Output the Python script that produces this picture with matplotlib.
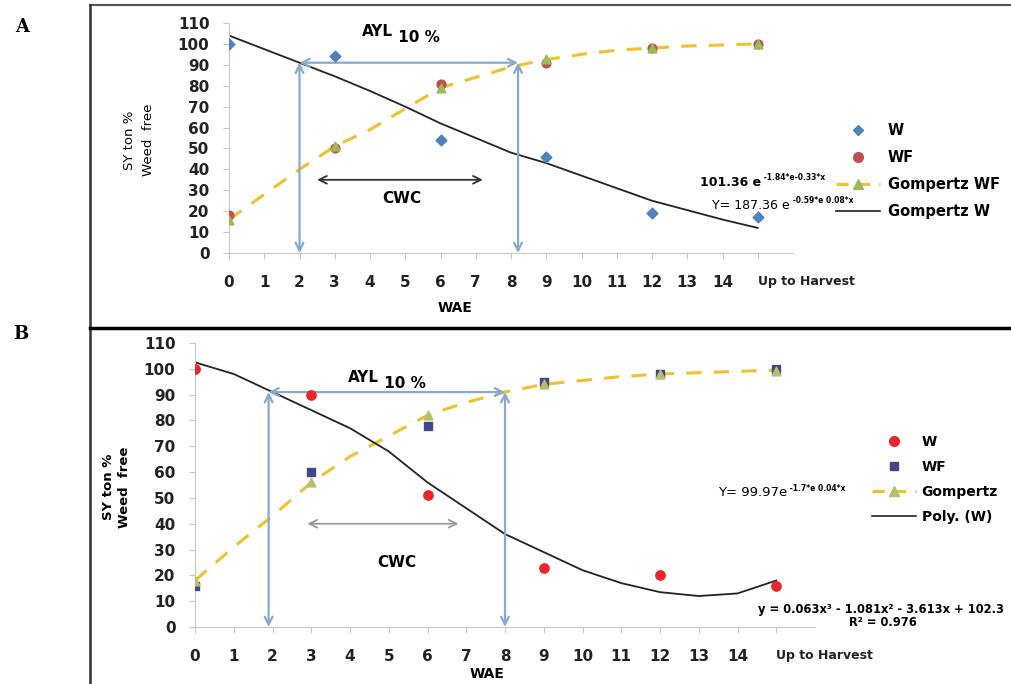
import numpy as np
import matplotlib
matplotlib.use('Agg')
import matplotlib.pyplot as plt
from matplotlib.lines import Line2D

# ---- data -------------------------------------------------------------
x_labels = [str(i) for i in range(15)] + ['Up to Harvest']
sample_idx = [0, 3, 6, 9, 12, 15]
curve_idx = list(range(16))

# panel A
a_w = [100, 94, 54, 46, 19, 17]
a_wf = [18, 50, 81, 91, 98, 100]
a_gomp_wf = [16, 51, 79, 93, 98, 100]
a_gomp_wf_curve = [16, 28, 40, 51, 59, 69, 79, 84, 89, 92.5, 95, 97, 98, 99, 99.5, 100]
a_gomp_w_curve = [104, 97.5, 91, 84.5, 77.5, 70, 62, 55, 48, 43, 37, 31, 25, 20.5, 16, 12]

# panel B
b_w = [100, 90, 51, 23, 20, 16]
b_wf = [16, 60, 78, 95, 98, 100]
b_gomp = [18, 56, 82, 94, 98, 99]
b_gomp_curve = [18, 31, 43, 56, 66, 74, 82, 87, 91, 94, 95.5, 97, 98, 98.5, 99, 99.5]
b_poly_curve = [102.5, 98, 91, 84, 77, 68, 56, 46, 36, 29, 22, 17, 13.5, 12, 13, 18]

# AYL / CWC markers (x positions in WAE units)
a_ayl = (2.0, 8.2, 91)
a_cwc = (2.5, 7.2, 35)
b_ayl = (1.9, 8.0, 91)
b_cwc = (2.9, 6.8, 40)

W, H = 1011, 684
fig = plt.figure(figsize=(W / 100, H / 100), dpi=100)


def fx(px):
    return px / W


def fy(py):
    return 1 - py / H


# panel frames
fig.add_artist(Line2D([fx(90), 1], [fy(5), fy(5)], color='#555555', lw=1.5))
fig.add_artist(Line2D([fx(90), fx(90)], [fy(5), 0], color='#333333', lw=1.8))
fig.add_artist(Line2D([fx(90), 1], [fy(328), fy(328)], color='black', lw=2.5))
fig.text(fx(22), fy(27), 'A', family='DejaVu Serif', weight='bold', fontsize=13, ha='center', va='center')
fig.text(fx(21), fy(334), 'B', family='DejaVu Serif', weight='bold', fontsize=13, ha='center', va='center')

blue_arr = '#87A9D0'
yellow = '#F2C12E'


def setup_axes(ax):
    ax.set_xlim(0, 16)
    ax.set_ylim(0, 110)
    ax.set_yticks(range(0, 111, 10))
    ax.set_xticks(range(16))
    ax.set_xticklabels(x_labels)
    for s in ['top', 'right']:
        ax.spines[s].set_visible(False)
    for s in ['left', 'bottom']:
        ax.spines[s].set_color('#C8C8C8')
    ax.tick_params(axis='both', colors='#C8C8C8', labelcolor='#222222', length=4)
    ax.tick_params(axis='x', pad=12)
    ax.tick_params(axis='y', pad=10)
    for lab in ax.get_xticklabels() + ax.get_yticklabels():
        lab.set_fontweight('bold')
        lab.set_fontsize(11)
    last = ax.get_xticklabels()[-1]
    last.set_fontsize(9)
    last.set_ha('left')
    last.set_x(14.85)
    ax.patch.set_alpha(0)


def arrows(ax, ayl, cwc, cwc_color, ayl_xy, cwc_txt_xy):
    x0, x1, y = ayl
    kw = dict(arrowstyle='<->', color=blue_arr, lw=1.6, mutation_scale=14, shrinkA=0, shrinkB=0)
    ax.annotate('', xy=(x0, 0), xytext=(x0, y), arrowprops=kw)
    ax.annotate('', xy=(x1, 0), xytext=(x1, y), arrowprops=kw)
    ax.annotate('', xy=(x1, y), xytext=(x0, y), arrowprops=kw)
    c0, c1, cy = cwc
    ax.annotate('', xy=(c1, cy), xytext=(c0, cy),
                arrowprops=dict(arrowstyle='<->', color=cwc_color, lw=1.3,
                                mutation_scale=14, shrinkA=0, shrinkB=0))
    t = ax.text(ayl_xy[0], ayl_xy[1], 'AYL', fontsize=11, weight='bold', ha='right', va='center')
    ax.annotate(' 10 %', xy=(1, 0.1), xycoords=t, fontsize=11, weight='bold', ha='left', va='center')
    ax.text(cwc_txt_xy[0], cwc_txt_xy[1], 'CWC', fontsize=11, weight='bold', ha='center', va='center')


def sup_text(ax, t, s):
    ax.annotate(s, xy=(1, 0.85), xycoords=t, fontsize=5.5, weight='bold',
                ha='left', va='center', annotation_clip=False)


# ---- panel A -------------------------------------------------------------
axA = fig.add_axes([fx(229), fy(253), fx(793) - fx(229), fy(23) - fy(253)])
setup_axes(axA)
arrows(axA, a_ayl, a_cwc, '#333333', (4.65, 106), (4.9, 26))
axA.plot(curve_idx, a_gomp_wf_curve, color=yellow, lw=2.2, dashes=(5, 4), zorder=2)
axA.plot(curve_idx, a_gomp_w_curve, color='#222222', lw=1.3, zorder=2)
axA.scatter(sample_idx, a_w, marker='D', s=30, color='#4F81BD', zorder=3)
axA.scatter(sample_idx, a_wf, marker='o', s=40, color='#C0504D', zorder=3)
axA.scatter(sample_idx, a_gomp_wf, marker='^', s=40, color='#9BBB59', zorder=4)
fig.text(fx(139), fy(140), 'SY ton %\nWeed  free', rotation=90, fontsize=9.5,
         ha='center', va='center', linespacing=1.6)
fig.text(fx(455), fy(308), 'WAE', fontsize=10, weight='bold', ha='center', va='center')

hA = [Line2D([], [], ls='none', marker='D', ms=5, color='#4F81BD'),
      Line2D([], [], ls='none', marker='o', ms=7, color='#C0504D'),
      Line2D([], [], color=yellow, lw=2.2, dashes=(4, 3), marker='^', ms=7,
             mfc='#9BBB59', mec='#9BBB59'),
      Line2D([], [], color='#222222', lw=1.2)]
axA.legend(hA, ['W', 'WF', 'Gompertz WF', 'Gompertz W'], loc='upper left',
           bbox_to_anchor=(fx(823), fy(110)), bbox_transform=fig.transFigure,
           frameon=False, handlelength=3.0, labelspacing=0.82, handletextpad=0.55,
           prop={'weight': 'bold', 'size': 10.5})

tA1 = fig.text(fx(700), fy(182), '101.36 e', fontsize=9, weight='bold', ha='left', va='center')
sup_text(axA, tA1, ' -1.84*e-0.33*x')
tA2 = fig.text(fx(712), fy(205), 'Y= 187.36 e', fontsize=9, ha='left', va='center')
sup_text(axA, tA2, ' -0.59*e 0.08*x')

# ---- panel B -------------------------------------------------------------
axB = fig.add_axes([fx(195), fy(627), fx(815) - fx(195), fy(343) - fy(627)])
setup_axes(axB)
arrows(axB, b_ayl, b_cwc, '#999999', (4.75, 96.5), (5.2, 25))
axB.plot(curve_idx, b_gomp_curve, color=yellow, lw=2.2, dashes=(5, 4), zorder=2)
axB.plot(curve_idx, b_poly_curve, color='#222222', lw=1.3, zorder=2)
axB.scatter(sample_idx, b_w, marker='o', s=45, color='#E8262B', zorder=3)
axB.scatter(sample_idx, b_wf, marker='s', s=40, color='#45458C', zorder=3)
axB.scatter(sample_idx, b_gomp, marker='^', s=40, color='#B5C06A', zorder=4)
fig.text(fx(117), fy(487), 'SY ton %\nWeed  free', rotation=90, fontsize=9.5,
         weight='bold', ha='center', va='center', linespacing=1.3)
fig.text(fx(487), fy(674), 'WAE', fontsize=10, weight='bold', ha='center', va='center')

hB = [Line2D([], [], ls='none', marker='o', ms=7, color='#E8262B'),
      Line2D([], [], ls='none', marker='s', ms=6, color='#45458C'),
      Line2D([], [], color=yellow, lw=2.2, dashes=(4, 3), marker='^', ms=7,
             mfc='#B5C06A', mec='#B5C06A'),
      Line2D([], [], color='#222222', lw=1.2)]
axB.legend(hB, ['W', 'WF', 'Gompertz', 'Poly. (W)'], loc='upper left',
           bbox_to_anchor=(fx(859), fy(422)), bbox_transform=fig.transFigure,
           frameon=False, handlelength=3.2, labelspacing=0.8, handletextpad=0.4,
           prop={'weight': 'bold', 'size': 10})

tB1 = fig.text(fx(718), fy(493), 'Y= 99.97e', fontsize=9.5, ha='left', va='center')
sup_text(axB, tB1, ' -1.7*e 0.04*x')
fig.text(fx(758), fy(609), 'y = 0.063x³ - 1.081x² - 3.613x + 102.3', fontsize=8.3,
         weight='bold', ha='left', va='center')
fig.text(fx(883), fy(622), 'R² = 0.976', fontsize=8.3, weight='bold', ha='center', va='center')

fig.savefig('out.png', dpi=100)
